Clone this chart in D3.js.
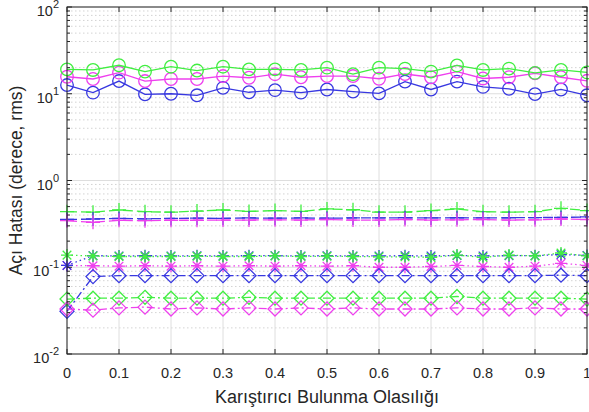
<!DOCTYPE html>
<html>
<head>
<meta charset="utf-8">
<script src="https://d3js.org/d3.v7.min.js"></script>
<style>
  body { margin: 0; background: #fff; }
  text { font-family: Arial, "Liberation Sans", sans-serif; fill: #262626; }
</style>
</head>
<body>
<div id="chart"></div>
<script>
// x positions (probability)
var probs = [0, 0.05, 0.1, 0.15, 0.2, 0.25, 0.3, 0.35, 0.4, 0.45, 0.5,
             0.55, 0.6, 0.65, 0.7, 0.75, 0.8, 0.85, 0.9, 0.95, 1];
var xTicks = [0, 0.1, 0.2, 0.3, 0.4, 0.5, 0.6, 0.7, 0.8, 0.9, 1];
var yDecades = [-2, -1, 0, 1, 2];

// circles, solid lines
var greenCircle = [19.1, 18.8, 21.3, 18.0, 20.5, 18.5, 20.5, 19.1, 19.1, 18.8, 20.0,
                   16.8, 20.0, 19.5, 18.0, 21.2, 18.8, 19.5, 17.4, 18.8, 17.6];
var magentaCircle = [15.7, 14.8, 17.5, 14.0, 14.8, 14.8, 16.0, 15.3, 16.8, 15.5, 16.0,
                     16.0, 14.9, 16.9, 15.5, 18.0, 15.0, 15.5, 17.2, 15.5, 14.1];
var blueCircle = [12.6, 10.3, 14.0, 9.85, 10.0, 9.6, 11.7, 10.4, 11.0, 10.3, 11.2,
                  10.6, 10.1, 13.8, 11.2, 13.8, 12.0, 11.4, 9.9, 11.2, 9.6];

// plus, dashed lines
var greenPlus = [0.437, 0.431, 0.457, 0.437, 0.431, 0.444, 0.457, 0.44, 0.45, 0.44, 0.47,
                 0.46, 0.431, 0.431, 0.45, 0.47, 0.437, 0.431, 0.437, 0.478, 0.45];
var magentaPlus = [0.344, 0.33, 0.348, 0.344, 0.348, 0.348, 0.35, 0.35, 0.352, 0.35, 0.355,
                   0.35, 0.35, 0.355, 0.35, 0.352, 0.355, 0.35, 0.352, 0.36, 0.355];
var bluePlus = [0.355, 0.36, 0.365, 0.362, 0.365, 0.368, 0.366, 0.37, 0.368, 0.37, 0.368,
                0.37, 0.37, 0.372, 0.37, 0.372, 0.37, 0.372, 0.374, 0.375, 0.38];

// asterisks, dotted lines
var greenStar = [0.138, 0.135, 0.133, 0.133, 0.133, 0.134, 0.133, 0.133, 0.135, 0.133, 0.134,
                 0.133, 0.132, 0.132, 0.13, 0.138, 0.13, 0.138, 0.135, 0.146, 0.135];
var blueStar = [0.105, 0.136, 0.135, 0.136, 0.135, 0.136, 0.135, 0.136, 0.136, 0.135, 0.136,
                0.135, 0.135, 0.136, 0.135, 0.137, 0.135, 0.136, 0.136, 0.14, 0.137];
var magentaStar = [0.105, 0.104, 0.103, 0.104, 0.103, 0.104, 0.103, 0.104, 0.103, 0.104, 0.103,
                   0.104, 0.1, 0.1, 0.102, 0.105, 0.102, 0.1, 0.103, 0.111, 0.105];

// diamonds, dash-dot lines
var blueDiamond = [0.031, 0.078, 0.080, 0.080, 0.080, 0.080, 0.080, 0.080, 0.080, 0.080, 0.080,
                   0.080, 0.080, 0.080, 0.080, 0.080, 0.080, 0.080, 0.080, 0.081, 0.080];
var greenDiamond = [0.043, 0.044, 0.044, 0.045, 0.044, 0.044, 0.044, 0.045, 0.044, 0.044, 0.044,
                    0.044, 0.044, 0.044, 0.044, 0.046, 0.044, 0.044, 0.044, 0.044, 0.043];
var magentaDiamond = [0.033, 0.032, 0.034, 0.0347, 0.033, 0.034, 0.033, 0.034, 0.033, 0.034, 0.033,
                      0.034, 0.033, 0.033, 0.033, 0.034, 0.033, 0.033, 0.034, 0.033, 0.033];

var GREEN = "#40ee40", MAGENTA = "#ee40ee", BLUE = "#3838e0";

var series = [
  { v: blueCircle, c: BLUE, m: "circle", dash: null },
  { v: magentaCircle, c: MAGENTA, m: "circle", dash: null },
  { v: greenCircle, c: GREEN, m: "circle", dash: null },
  { v: greenPlus, c: GREEN, m: "plus", dash: "10,4" },
  { v: bluePlus, c: BLUE, m: "plus", dash: "10,4" },
  { v: magentaPlus, c: MAGENTA, m: "plus", dash: "10,4" },
  { v: magentaStar, c: MAGENTA, m: "star", dash: "1.5,3" },
  { v: blueStar, c: BLUE, m: "star", dash: "1.5,3" },
  { v: greenStar, c: GREEN, m: "star", dash: "1.5,3" },
  { v: blueDiamond, c: BLUE, m: "diamond", dash: "8,3,2,3" },
  { v: greenDiamond, c: GREEN, m: "diamond", dash: "8,3,2,3" },
  { v: magentaDiamond, c: MAGENTA, m: "diamond", dash: "8,3,2,3" }
];

var W = 589, H = 412;
var margin = { top: 7, right: 2, bottom: 58, left: 67 };
var width = W - margin.left - margin.right,
    height = H - margin.top - margin.bottom;

var svg = d3.select("#chart").append("svg")
  .attr("width", W).attr("height", H);
var g = svg.append("g")
  .attr("transform", "translate(" + margin.left + "," + margin.top + ")");

var x = d3.scaleLinear().domain([0, 1]).range([0, width]);
var y = d3.scaleLog().domain([0.01, 100]).range([height, 0]);

// minor horizontal grid (dotted)
var minorVals = [];
yDecades.slice(0, -1).forEach(function (e) {
  for (var k = 2; k <= 9; k++) minorVals.push(k * Math.pow(10, e));
});
g.append("g").selectAll("line").data(minorVals).enter().append("line")
  .attr("x1", 0).attr("x2", width)
  .attr("y1", function (d) { return y(d); }).attr("y2", function (d) { return y(d); })
  .attr("stroke", "#c8c8c8").attr("stroke-width", 0.8)
  .attr("stroke-dasharray", "1.5,2.5");

// major grid
g.append("g").selectAll("line").data(xTicks).enter().append("line")
  .attr("x1", function (d) { return x(d); }).attr("x2", function (d) { return x(d); })
  .attr("y1", 0).attr("y2", height)
  .attr("stroke", "#dedede").attr("stroke-width", 1);
g.append("g").selectAll("line").data(yDecades).enter().append("line")
  .attr("x1", 0).attr("x2", width)
  .attr("y1", function (d) { return y(Math.pow(10, d)); })
  .attr("y2", function (d) { return y(Math.pow(10, d)); })
  .attr("stroke", "#dedede").attr("stroke-width", 1);

// series
var plot = g.append("g");
var line = d3.line()
  .x(function (d, i) { return x(probs[i]); })
  .y(function (d) { return y(d); });

var markerPath = {
  plus: "M-7,0H7M0,-7V7",
  star: "M-6,0H6M0,-6V6M-4.3,-4.3L4.3,4.3M-4.3,4.3L4.3,-4.3",
  diamond: "M0,-7L7,0L0,7L-7,0Z"
};

series.forEach(function (s) {
  plot.append("path")
    .datum(s.v)
    .attr("fill", "none")
    .attr("stroke", s.c)
    .attr("stroke-width", 1.3)
    .attr("stroke-dasharray", s.dash)
    .attr("d", line);
  var pts = plot.append("g").selectAll("g").data(s.v).enter().append("g")
    .attr("transform", function (d, i) {
      return "translate(" + x(probs[i]) + "," + y(d) + ")";
    });
  if (s.m === "circle") {
    pts.append("circle").attr("r", 6.3)
      .attr("fill", "none").attr("stroke", s.c).attr("stroke-width", 1.3);
  } else {
    pts.append("path").attr("d", markerPath[s.m])
      .attr("fill", "none").attr("stroke", s.c).attr("stroke-width", 1.3);
  }
});

// axes box
var axisColor = "#262626";
g.append("rect").attr("x", 0).attr("y", 0).attr("width", width).attr("height", height)
  .attr("fill", "none").attr("stroke", axisColor).attr("stroke-width", 1);

// x ticks (inward, bottom and top)
var xt = g.append("g");
xTicks.forEach(function (t) {
  xt.append("line").attr("x1", x(t)).attr("x2", x(t)).attr("y1", height).attr("y2", height - 5)
    .attr("stroke", axisColor);
  xt.append("line").attr("x1", x(t)).attr("x2", x(t)).attr("y1", 0).attr("y2", 5)
    .attr("stroke", axisColor);
  xt.append("text").attr("x", x(t)).attr("y", height + 24)
    .attr("text-anchor", "middle").attr("font-size", 14.5)
    .text(d3.format("")(t));
});

// y ticks (inward, left and right), major and minor
var yt = g.append("g");
yDecades.forEach(function (e) {
  var yy = y(Math.pow(10, e));
  yt.append("line").attr("x1", 0).attr("x2", 5).attr("y1", yy).attr("y2", yy).attr("stroke", axisColor);
  yt.append("line").attr("x1", width).attr("x2", width - 5).attr("y1", yy).attr("y2", yy).attr("stroke", axisColor);
  var lab = yt.append("text").attr("x", -8).attr("y", yy + 9)
    .attr("text-anchor", "end").attr("font-size", 14.5);
  lab.append("tspan").text("10");
  lab.append("tspan").attr("dy", -8).attr("font-size", 11).text(e);
});
minorVals.forEach(function (v) {
  var yy = y(v);
  yt.append("line").attr("x1", 0).attr("x2", 3).attr("y1", yy).attr("y2", yy).attr("stroke", axisColor);
  yt.append("line").attr("x1", width).attr("x2", width - 3).attr("y1", yy).attr("y2", yy).attr("stroke", axisColor);
});

// axis titles
svg.append("text")
  .attr("x", margin.left + width / 2).attr("y", H - 9)
  .attr("text-anchor", "middle").attr("font-size", 18)
  .text("Karıştırıcı Bulunma Olasılığı");
svg.append("text")
  .attr("transform", "translate(22," + (margin.top + height / 2) + ") rotate(-90)")
  .attr("text-anchor", "middle").attr("font-size", 17.5)
  .text("Açı Hatası (derece, rms)");
</script>
</body>
</html>
